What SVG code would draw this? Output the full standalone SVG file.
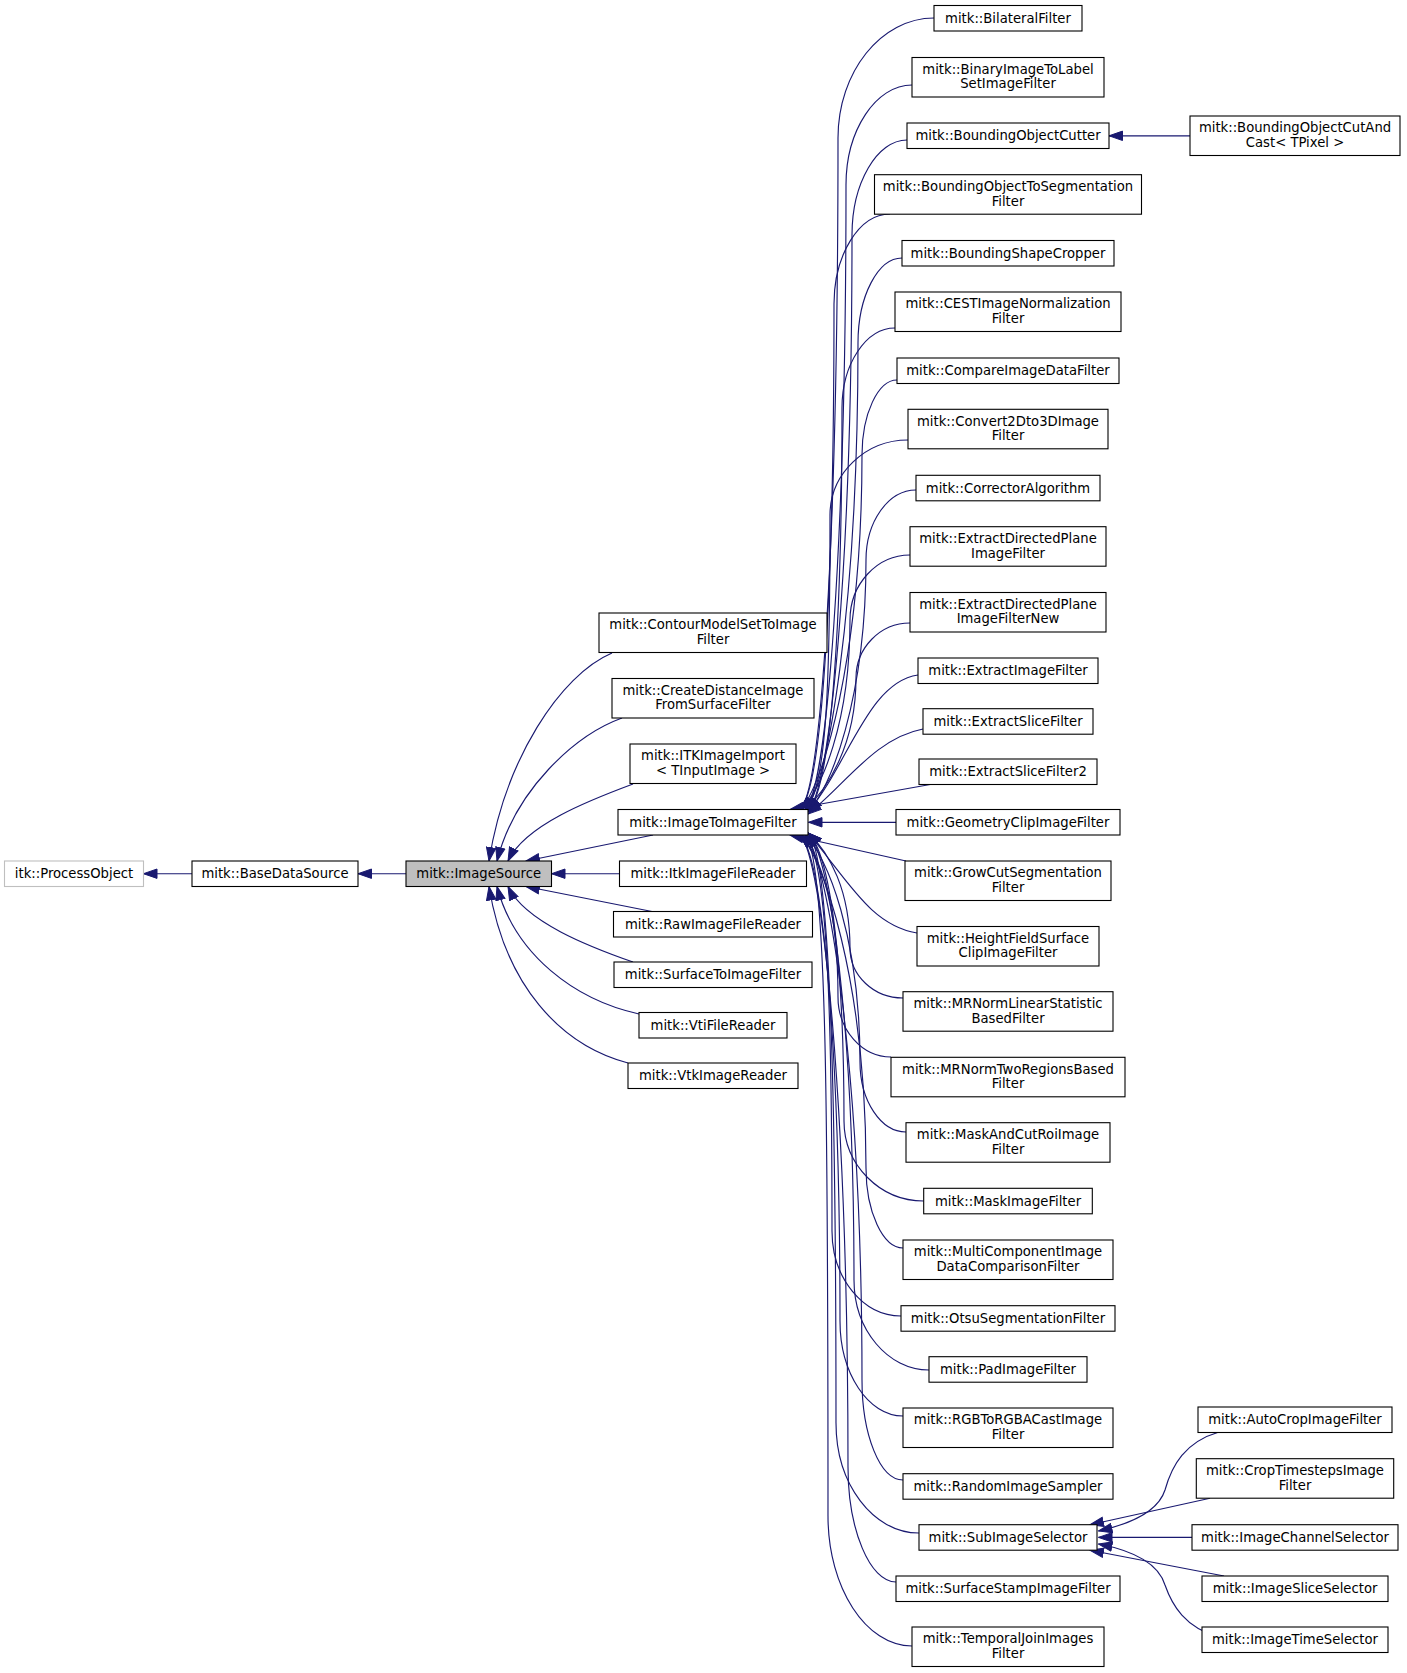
<svg xmlns="http://www.w3.org/2000/svg" width="1407" height="1673" viewBox="0 0 1407 1673">
<style>
rect{fill:#fff;stroke:#000;stroke-width:1.1}
rect.g{stroke:#bfbfbf}
rect.f{fill:#bfbfbf}
text{font-family:"DejaVu Sans","Liberation Sans",sans-serif;font-size:13.2px;text-anchor:middle;fill:#000}
#edges path{fill:none;stroke:#191970;stroke-width:1.15;marker-end:url(#ah)}
</style>
<defs>
<marker id="ah" markerUnits="userSpaceOnUse" markerWidth="15" markerHeight="11" viewBox="0 0 15 11" refX="14" refY="5.5" orient="auto">
<path d="M0.5,0.8 L14,5.5 L0.5,10.2 z" fill="#191970" stroke="#191970" stroke-width="1"/>
</marker>
</defs>
<rect x="0" y="0" width="1407" height="1673" style="fill:#fff;stroke:none"/>
<g id="edges">
<path d="M192,873.7 L143.5,873.7"/>
<path d="M406,873.7 L358,873.7"/>
<path d="M612,653 C560,675 505,760 489,861"/>
<path d="M622,718 C575,735 515,790 497,861"/>
<path d="M633,784 C590,800 525,825 508,861"/>
<path d="M653,835 L526,861"/>
<path d="M619.5,873.7 L551.5,873.7"/>
<path d="M652,911.5 L526,886.5"/>
<path d="M633,962 C590,947 525,922 508,886.5"/>
<path d="M639,1014 C575,1000 515,955 497,886.5"/>
<path d="M628,1063 C560,1045 505,985 489,886.5"/>
<path d="M934,18 C881,18 838,72 838,138 C838,529 822,790 800,809.5"/>
<path d="M912,85 C876,85 846,130 846,185 C846,548 827,790 805,809.5"/>
<path d="M907,140 C877,140 852,183 852,235 C852,569 830,791 808,811"/>
<path d="M890,214 C859,214 834,255 834,304 C834,595 822,790 800,809.5"/>
<path d="M902,258 C878,258 858,296 858,343 C858,611 827,790 805,809.5"/>
<path d="M895,328 C866,328 842,364 842,408 C842,638 830,791 808,811"/>
<path d="M897,380 C878,380 862,414 862,455 C862,656 822,790 800,809.5"/>
<path d="M908,440 C865,440 830,474 830,515 C830,680 827,790 805,809.5"/>
<path d="M916,490 C888,490 866,522 866,560 C866,699 830,791 808,811"/>
<path d="M910,555 C877,555 850,584 850,620 C850,722 822,790 800,809.5"/>
<path d="M910,623 C880,623 856,648 856,678 C856,745 827,790 805,809.5"/>
<path d="M918,675 C868,682 848,765 808,812"/>
<path d="M923,729 C875,738 845,785 808,814"/>
<path d="M933,784 L790,809.5"/>
<path d="M896,822.3 L808.5,822.3"/>
<path d="M906,861 L790,835"/>
<path d="M917,933 C870,925 848,880 808,833"/>
<path d="M903,998 C874,998 850,976 850,948 C850,891 830,853 808,833"/>
<path d="M891,1057 C862,1057 838,1030 838,997 C838,912 822,855 800,835"/>
<path d="M906,1132 C881,1132 860,1101 860,1062 C860,938 827,855 805,835"/>
<path d="M923.7,1201 C880,1201 844,1165 844,1121 C844,960 830,853 808,833"/>
<path d="M903,1248 C883,1248 866,1212 866,1168 C866,980 822,855 800,835"/>
<path d="M901,1316 C863,1316 832,1278 832,1231 C832,1005 827,855 805,835"/>
<path d="M929,1370 C888,1370 854,1330 854,1280 C854,1024 830,853 808,833"/>
<path d="M903,1416 C868,1416 840,1373 840,1321 C840,1041 822,855 800,835"/>
<path d="M903,1480 C880,1480 862,1435 862,1380 C862,1065 827,855 805,835"/>
<path d="M919,1533 C873,1533 836,1484 836,1423 C836,1081 830,853 808,833"/>
<path d="M896,1582 C870,1582 848,1530 848,1467 C848,1100 822,855 800,835"/>
<path d="M912,1646 C866,1646 828,1588 828,1516 C828,1119 827,855 805,835"/>
<path d="M1190,135.8 L1109,135.8"/>
<path d="M1219,1432 C1185,1442 1172,1465 1165,1490 C1158,1512 1130,1524 1098.5,1531"/>
<path d="M1210,1498.3 L1090,1524.7"/>
<path d="M1192,1537.4 L1098.5,1537.4"/>
<path d="M1224,1576 L1090,1550.2"/>
<path d="M1219,1637 C1185,1628 1172,1605 1165,1585 C1158,1562 1130,1550 1098.5,1544"/>
</g>
<g id="n_itk"><rect class="g" x="4.5" y="861" width="139" height="25.5"/><text x="74" y="878.2">itk::ProcessObject</text></g>
<g id="n_bds"><rect x="192" y="861" width="166" height="25.5"/><text x="275" y="878.2">mitk::BaseDataSource</text></g>
<g id="n_is"><rect class="f" x="406" y="861" width="145.5" height="25.5"/><text x="478.7" y="878.2">mitk::ImageSource</text></g>
<g id="n_contour"><rect x="599" y="613" width="228" height="39.5"/><text x="713" y="629.3">mitk::ContourModelSetToImage</text><text x="713" y="643.8">Filter</text></g>
<g id="n_createdist"><rect x="612" y="678.5" width="202" height="39.5"/><text x="713" y="694.8">mitk::CreateDistanceImage</text><text x="713" y="709.3">FromSurfaceFilter</text></g>
<g id="n_itkimport"><rect x="630" y="744" width="166" height="39.5"/><text x="713" y="760.3">mitk::ITKImageImport</text><text x="713" y="774.8">&lt; TInputImage &gt;</text></g>
<g id="n_i2i"><rect x="618" y="809.5" width="190" height="25.5"/><text x="713" y="826.7">mitk::ImageToImageFilter</text></g>
<g id="n_itkreader"><rect x="619.5" y="861" width="187" height="25.5"/><text x="713" y="878.2">mitk::ItkImageFileReader</text></g>
<g id="n_raw"><rect x="613.5" y="911.5" width="199" height="25.5"/><text x="713" y="928.7">mitk::RawImageFileReader</text></g>
<g id="n_s2i"><rect x="614" y="962" width="198" height="25.5"/><text x="713" y="979.2">mitk::SurfaceToImageFilter</text></g>
<g id="n_vti"><rect x="639" y="1012.5" width="148" height="25.5"/><text x="713" y="1029.7">mitk::VtiFileReader</text></g>
<g id="n_vtk"><rect x="628" y="1063" width="170" height="25.5"/><text x="713" y="1080.2">mitk::VtkImageReader</text></g>
<g id="n_bilateral"><rect x="934" y="5.5" width="148" height="25.5"/><text x="1008" y="22.7">mitk::BilateralFilter</text></g>
<g id="n_binary"><rect x="912" y="57.5" width="192" height="39.5"/><text x="1008" y="73.8">mitk::BinaryImageToLabel</text><text x="1008" y="88.3">SetImageFilter</text></g>
<g id="n_cutter"><rect x="907" y="123" width="202" height="25.5"/><text x="1008" y="140.2">mitk::BoundingObjectCutter</text></g>
<g id="n_bots"><rect x="874.5" y="174.7" width="267" height="39.5"/><text x="1008" y="191">mitk::BoundingObjectToSegmentation</text><text x="1008" y="205.5">Filter</text></g>
<g id="n_bshape"><rect x="902" y="240.5" width="212" height="25.5"/><text x="1008" y="257.7">mitk::BoundingShapeCropper</text></g>
<g id="n_cest"><rect x="895" y="292" width="226" height="39.5"/><text x="1008" y="308.3">mitk::CESTImageNormalization</text><text x="1008" y="322.8">Filter</text></g>
<g id="n_compare"><rect x="897" y="358" width="222" height="25.5"/><text x="1008" y="375.2">mitk::CompareImageDataFilter</text></g>
<g id="n_convert"><rect x="908" y="409.3" width="200" height="39.5"/><text x="1008" y="425.6">mitk::Convert2Dto3DImage</text><text x="1008" y="440.1">Filter</text></g>
<g id="n_corrector"><rect x="916" y="475.3" width="184" height="25.5"/><text x="1008" y="492.5">mitk::CorrectorAlgorithm</text></g>
<g id="n_edp"><rect x="910" y="526.7" width="196" height="39.5"/><text x="1008" y="543">mitk::ExtractDirectedPlane</text><text x="1008" y="557.5">ImageFilter</text></g>
<g id="n_edpnew"><rect x="910" y="592.5" width="196" height="39.5"/><text x="1008" y="608.8">mitk::ExtractDirectedPlane</text><text x="1008" y="623.3">ImageFilterNew</text></g>
<g id="n_extractimage"><rect x="918" y="658" width="180" height="25.5"/><text x="1008" y="675.2">mitk::ExtractImageFilter</text></g>
<g id="n_extractslice"><rect x="923" y="708.7" width="170" height="25.5"/><text x="1008" y="725.9">mitk::ExtractSliceFilter</text></g>
<g id="n_extractslice2"><rect x="919" y="759" width="178" height="25.5"/><text x="1008" y="776.2">mitk::ExtractSliceFilter2</text></g>
<g id="n_geomclip"><rect x="896" y="809.5" width="224" height="25.5"/><text x="1008" y="826.7">mitk::GeometryClipImageFilter</text></g>
<g id="n_growcut"><rect x="905" y="861" width="206" height="39.5"/><text x="1008" y="877.3">mitk::GrowCutSegmentation</text><text x="1008" y="891.8">Filter</text></g>
<g id="n_heightfield"><rect x="917" y="926.5" width="182" height="39.5"/><text x="1008" y="942.8">mitk::HeightFieldSurface</text><text x="1008" y="957.3">ClipImageFilter</text></g>
<g id="n_mrnormlin"><rect x="903" y="991.7" width="210" height="39.5"/><text x="1008" y="1008">mitk::MRNormLinearStatistic</text><text x="1008" y="1022.5">BasedFilter</text></g>
<g id="n_mrnormtwo"><rect x="891" y="1057.3" width="234" height="39.5"/><text x="1008" y="1073.6">mitk::MRNormTwoRegionsBased</text><text x="1008" y="1088.1">Filter</text></g>
<g id="n_maskandcut"><rect x="906" y="1122.7" width="204" height="39.5"/><text x="1008" y="1139">mitk::MaskAndCutRoiImage</text><text x="1008" y="1153.5">Filter</text></g>
<g id="n_maskimage"><rect x="923.7" y="1188.3" width="168.6" height="25.5"/><text x="1008" y="1205.5">mitk::MaskImageFilter</text></g>
<g id="n_multicomp"><rect x="903" y="1240" width="210" height="39.5"/><text x="1008" y="1256.3">mitk::MultiComponentImage</text><text x="1008" y="1270.8">DataComparisonFilter</text></g>
<g id="n_otsu"><rect x="901" y="1305.7" width="214" height="25.5"/><text x="1008" y="1322.9">mitk::OtsuSegmentationFilter</text></g>
<g id="n_pad"><rect x="929" y="1356.7" width="158" height="25.5"/><text x="1008" y="1373.9">mitk::PadImageFilter</text></g>
<g id="n_rgb"><rect x="903" y="1408" width="210" height="39.5"/><text x="1008" y="1424.3">mitk::RGBToRGBACastImage</text><text x="1008" y="1438.8">Filter</text></g>
<g id="n_random"><rect x="903" y="1473.7" width="210" height="25.5"/><text x="1008" y="1490.9">mitk::RandomImageSampler</text></g>
<g id="n_subimage"><rect x="919" y="1524.7" width="178" height="25.5"/><text x="1008" y="1541.9">mitk::SubImageSelector</text></g>
<g id="n_surfstamp"><rect x="896" y="1576" width="224" height="25.5"/><text x="1008" y="1593.2">mitk::SurfaceStampImageFilter</text></g>
<g id="n_temporal"><rect x="912" y="1627" width="192" height="39.5"/><text x="1008" y="1643.3">mitk::TemporalJoinImages</text><text x="1008" y="1657.8">Filter</text></g>
<g id="n_bocutand"><rect x="1190" y="116" width="210" height="39.5"/><text x="1295" y="132.3">mitk::BoundingObjectCutAnd</text><text x="1295" y="146.8">Cast&lt; TPixel &gt;</text></g>
<g id="n_autocrop"><rect x="1198" y="1407" width="194" height="25.5"/><text x="1295" y="1424.2">mitk::AutoCropImageFilter</text></g>
<g id="n_croptime"><rect x="1196.3" y="1458.7" width="197.4" height="39.5"/><text x="1295" y="1475">mitk::CropTimestepsImage</text><text x="1295" y="1489.5">Filter</text></g>
<g id="n_channel"><rect x="1192" y="1524.7" width="206" height="25.5"/><text x="1295" y="1541.9">mitk::ImageChannelSelector</text></g>
<g id="n_slice"><rect x="1202" y="1576" width="186" height="25.5"/><text x="1295" y="1593.2">mitk::ImageSliceSelector</text></g>
<g id="n_time"><rect x="1202" y="1627" width="186" height="25.5"/><text x="1295" y="1644.2">mitk::ImageTimeSelector</text></g>
</svg>
